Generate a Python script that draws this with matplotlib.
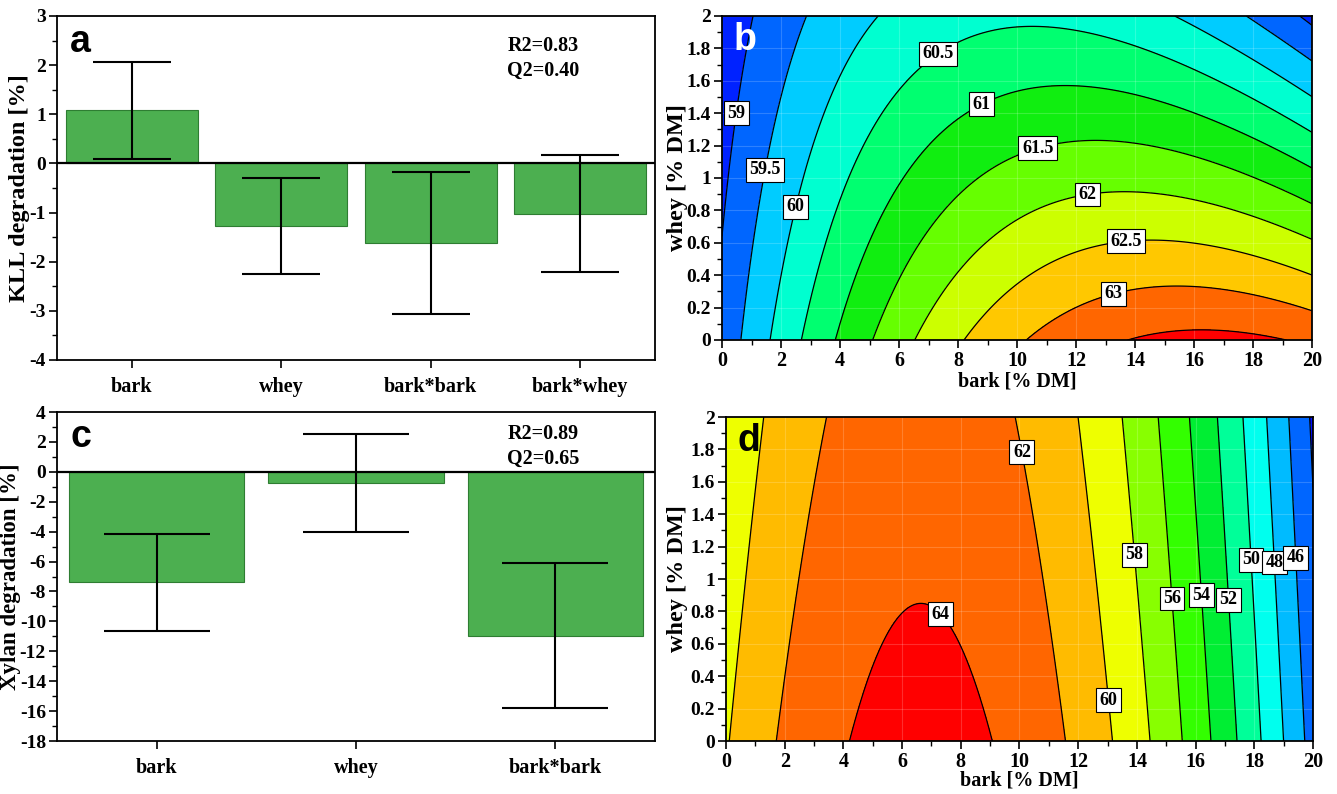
import numpy as np
import matplotlib
matplotlib.use("Agg")
import matplotlib.pyplot as plt
from matplotlib.colors import ListedColormap, BoundaryNorm
from matplotlib.ticker import MultipleLocator

plt.rcParams['font.family'] = ['Liberation Serif', 'DejaVu Serif']
plt.rcParams['font.weight'] = 'bold'
plt.rcParams['axes.unicode_minus'] = False

# scaled, centred coefficients (bar charts)
kll_terms = ['bark', 'whey', 'bark*bark', 'bark*whey']
kll_coef = [1.08, -1.28, -1.62, -1.02]
kll_err = [0.99, 0.98, 1.45, 1.19]

xyl_terms = ['bark', 'whey', 'bark*bark']
xyl_coef = [-7.4, -0.75, -10.95]
xyl_err = [3.27, 3.25, 4.82]

# response surface models in real units: const, bark, whey, bark^2, bark*whey
kll_model = [59.16, 0.5425, -0.25, -0.0165, -0.101]
xyl_model = [59.84, 1.4475, -0.76, -0.109, 0.0]

kll_levels = [59, 59.5, 60, 60.5, 61, 61.5, 62, 62.5, 63, 63.5]
kll_colors = ['#0022FF', '#0066FF', '#00CCFF', '#00FFD0', '#00FF70', '#10EE10',
              '#66FF00', '#CCFF00', '#FFC800', '#FF6600', '#FF0000']
kll_label_pos = [(0.5, 1.4), (1.45, 1.05), (2.55, 0.82), (7.4, 1.75), (8.9, 1.42),
                 (10.8, 1.12), (12.4, 0.88), (13.7, 0.58), (13.3, 0.27)]

xyl_levels = [44, 46, 48, 50, 52, 54, 56, 58, 60, 62, 64]
xyl_colors = ['#0010FF', '#0066FF', '#00BBFF', '#00FFEE', '#00FF99', '#00EE33',
              '#33FF00', '#88FF00', '#EEFF00', '#FFBB00', '#FF6600', '#FF0000']
xyl_label_pos = [(10.0, 1.78), (7.3, 0.78), (13.0, 0.25), (13.95, 1.15), (15.2, 0.88),
                 (16.1, 0.9), (17.0, 0.87), (17.9, 1.12), (18.5, 1.1), (19.25, 1.13)]

bar_color = '#4CAF50'
bar_edge = '#2E7D32'
tick_fs = 14


def style_axes(ax):
    for s in ax.spines.values():
        s.set_linewidth(1.3)
    ax.tick_params(which='major', direction='out', length=6, width=1.2,
                   labelsize=tick_fs, top=False, right=False, pad=2)
    ax.tick_params(which='minor', direction='out', length=3.5, width=1.0,
                   top=False, right=False)


def bar_panel(ax, terms, coef, err, ylim, ymaj, ymin, ylabel, letter, r2q2, capsize,
              r2y, ylab_x, ylab_fs):
    x = np.arange(len(terms))
    ax.bar(x, coef, width=0.88, color=bar_color, edgecolor=bar_edge, linewidth=0.8, zorder=2)
    ax.errorbar(x, coef, yerr=err, fmt='none', ecolor='black', elinewidth=1.5,
                capsize=capsize, capthick=1.5, zorder=3)
    ax.axhline(0, color='black', lw=1.6, zorder=4)
    ax.set_xlim(-0.5, len(terms) - 0.5)
    ax.set_ylim(*ylim)
    ax.set_xticks(x)
    ax.set_xticklabels(terms)
    ax.yaxis.set_major_locator(MultipleLocator(ymaj))
    ax.yaxis.set_minor_locator(MultipleLocator(ymin))
    ax.set_ylabel(ylabel, fontsize=ylab_fs, fontweight='bold')
    ax.yaxis.set_label_coords(ylab_x, 0.5)
    style_axes(ax)
    ax.tick_params(axis='x', labelsize=14.5, pad=6)
    ax.text(0.022, 0.925, letter, transform=ax.transAxes, fontsize=27, fontweight='bold',
            family='Liberation Sans', va='center', ha='left')
    ax.text(0.813, r2y, r2q2, transform=ax.transAxes, fontsize=14.5, fontweight='bold',
            va='center', ha='center', linespacing=1.3)


def surface(model, b, w):
    return model[0] + model[1] * b + model[2] * w + model[3] * b ** 2 + model[4] * b * w


def contour_panel(ax, model, levels, colors, label_pos, letter, letter_color, ylab_x, xlab_y):
    b = np.linspace(0, 20, 401)
    w = np.linspace(0, 2, 201)
    B, W = np.meshgrid(b, w)
    Z = surface(model, B, W)
    bounds = [Z.min() - 1] + levels + [Z.max() + 1]
    cmap = ListedColormap(colors)
    norm = BoundaryNorm(bounds, cmap.N)
    ax.contourf(B, W, Z, levels=bounds, cmap=cmap, norm=norm)
    cs = ax.contour(B, W, Z, levels=levels, colors='black', linewidths=0.9)
    texts = ax.clabel(cs, inline=False, fmt='%g', manual=label_pos, fontsize=13)
    for t in texts:
        t.set_rotation(0)
        t.set_fontweight('bold')
        t.set_bbox(dict(facecolor='white', edgecolor='black', linewidth=0.8, pad=2.5))
    ax.grid(True, color='white', alpha=0.18, lw=0.8)
    ax.set_xlim(0, 20)
    ax.set_ylim(0, 2)
    ax.xaxis.set_major_locator(MultipleLocator(2))
    ax.xaxis.set_minor_locator(MultipleLocator(1))
    ax.yaxis.set_major_locator(MultipleLocator(0.2))
    ax.yaxis.set_minor_locator(MultipleLocator(0.1))
    ax.yaxis.set_major_formatter(plt.FuncFormatter(lambda v, p: f'{v:g}'))
    ax.set_xlabel('bark [% DM]', fontsize=14.5, fontweight='bold')
    ax.set_ylabel('whey [% DM]', fontsize=17.5, fontweight='bold')
    ax.xaxis.set_label_coords(0.5, xlab_y)
    ax.yaxis.set_label_coords(ylab_x, 0.5)
    style_axes(ax)
    ax.tick_params(axis='x', labelsize=14.5)
    ax.text(0.02, 0.925, letter, transform=ax.transAxes, fontsize=27, fontweight='bold',
            family='Liberation Sans', color=letter_color, va='center', ha='left')


fig = plt.figure(figsize=(13.37, 7.94), dpi=100)
W_, H_ = 1337, 794
ax_a = fig.add_axes([57 / W_, 1 - 360 / H_, 598 / W_, 344 / H_])
ax_b = fig.add_axes([722 / W_, 1 - 340 / H_, 590 / W_, 324 / H_])
ax_c = fig.add_axes([57 / W_, 1 - 741 / H_, 598 / W_, 329 / H_])
ax_d = fig.add_axes([726 / W_, 1 - 741 / H_, 587 / W_, 324 / H_])

bar_panel(ax_a, kll_terms, kll_coef, kll_err, (-4, 3), 1, 0.5,
          'KLL degradation [%]', 'a', 'R2=0.83\nQ2=0.40', 28, 0.876, -0.045, 17.5)
bar_panel(ax_c, xyl_terms, xyl_coef, xyl_err, (-18, 4), 2, 1,
          'Xylan degradation [%]', 'c', 'R2=0.89\nQ2=0.65', 38, 0.895, -0.0595, 16.5)

contour_panel(ax_b, kll_model, kll_levels, kll_colors, kll_label_pos, 'b', 'white',
              -0.058, -0.098)
contour_panel(ax_d, xyl_model, xyl_levels, xyl_colors, xyl_label_pos, 'd', 'black',
              -0.065, -0.09)

fig.savefig('out.png', dpi=100)
